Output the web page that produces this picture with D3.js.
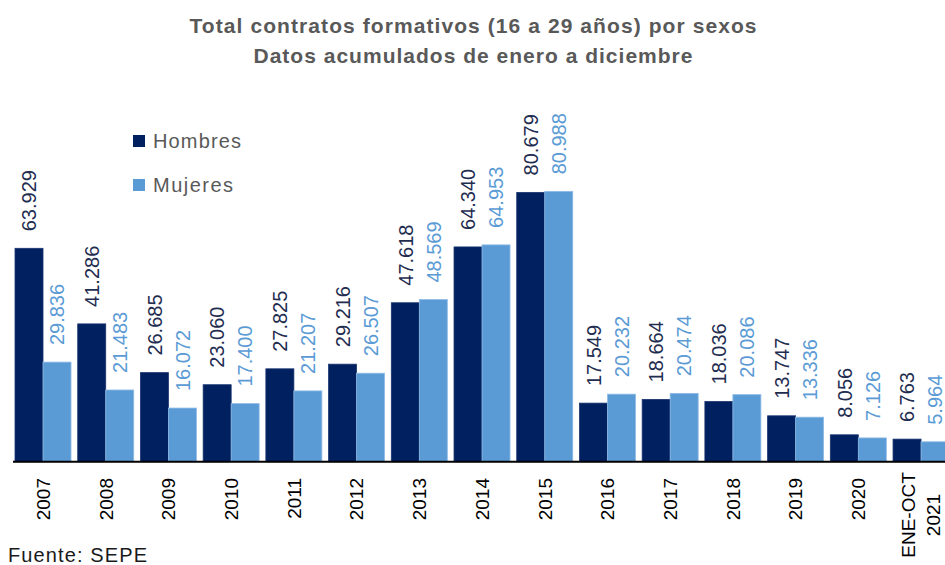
<!DOCTYPE html>
<html><head><meta charset="utf-8">
<script src="https://cdn.jsdelivr.net/npm/d3@7"></script>
<style>body{margin:0;background:#fff}svg{display:block}</style>
</head><body>
<svg id="c" width="945" height="565"></svg>
<script>
const categories = ["2007","2008","2009","2010","2011","2012","2013","2014","2015","2016","2017","2018","2019","2020","ENE-OCT\n2021"];
const hombres = [63929,41286,26685,23060,27825,29216,47618,64340,80679,17549,18664,18036,13747,8056,6763];
const mujeres = [29836,21483,16072,17400,21207,26507,48569,64953,80988,20232,20474,20086,13336,7126,5964];
const seriesNames = ["Hombres","Mujeres"];
const titleLines = ["Total contratos formativos (16 a 29 años) por sexos","Datos acumulados  de enero a diciembre"];

const colors = ["#002060","#5B9BD5"];
const labelColors = ["#1F2D50","#5B9BD5"];
const font = "'Liberation Sans', Arial, sans-serif";
const svg = d3.select("#c");
const baseY = 461.7;
const x = d3.scaleBand().domain(categories).range([11.65, 952.4]).paddingInner(0.107).paddingOuter(0.0535);
const xs = d3.scaleBand().domain(seriesNames).range([0, x.bandwidth()]);
const y = d3.scaleLinear().domain([0, 63929]).range([baseY, 248.3]);
const loc = d3.formatLocale({decimal:",", thousands:".", grouping:[3], currency:["","€"]});
const fmt = loc.format(",d");

const data = [];
categories.forEach((c,i)=>{
  data.push({c, s:"Hombres", v:hombres[i], k:0});
  data.push({c, s:"Mujeres", v:mujeres[i], k:1});
});

const g = svg.append("g");
g.selectAll("rect").data(data).join("rect")
  .attr("x", d=>x(d.c)+xs(d.s))
  .attr("y", d=>y(d.v))
  .attr("width", xs.bandwidth())
  .attr("height", d=>baseY - y(d.v))
  .attr("fill", d=>colors[d.k])
  .attr("stroke", d=> d.k===0 ? "#1a3570" : "#8fbbe6")
  .attr("stroke-width", 0.8);

g.selectAll("text.val").data(data).join("text")
  .attr("class","val")
  .attr("transform", d=>`translate(${x(d.c)+xs(d.s)+xs.bandwidth()/2},${y(d.v)-17}) rotate(-90)`)
  .attr("dy","0.36em")
  .attr("text-anchor","start")
  .attr("font-family", font).attr("font-size", 20)
  .attr("fill", d=>labelColors[d.k])
  .text(d=>fmt(d.v));

// axis
const axis = d3.axisBottom(x).tickSize(0).tickFormat("");
const ax = svg.append("g").attr("transform",`translate(0,${baseY})`).call(axis);
ax.select(".domain").remove();
svg.append("line").attr("x1",13).attr("x2",945).attr("y1",baseY).attr("y2",baseY)
  .attr("stroke","#000").attr("stroke-width",2);

categories.forEach(c=>{
  const lines = c.split("\n");
  const cx = x(c)+x.bandwidth()/2;
  if(lines.length===1){
    svg.append("text").attr("transform",`translate(${cx},478) rotate(-90)`)
      .attr("dy","0.36em").attr("text-anchor","end")
      .attr("font-family",font).attr("font-size",19).attr("fill","#000").text(c);
  } else {
    lines.forEach((l,j)=>{
      svg.append("text").attr("transform",`translate(${cx + (j-(lines.length-1)/2)*25},515) rotate(-90)`)
        .attr("dy","0.36em").attr("text-anchor","middle")
        .attr("font-family",font).attr("font-size",19).attr("fill","#000").text(l);
    });
  }
});

// title
const titleLens = [567, 439];
const titleBase = [33.3, 62.5];
titleLines.forEach((t,i)=>{
  svg.append("text").attr("x",473).attr("y",titleBase[i]).attr("text-anchor","middle")
    .attr("font-family",font).attr("font-weight","bold").attr("font-size",21)
    .attr("textLength",titleLens[i]).attr("lengthAdjust","spacing")
    .attr("fill","#595959").text(t);
});

// legend
const legendLens = [88, 80];
seriesNames.forEach((s,i)=>{
  const ly = 141 + i*44;
  svg.append("rect").attr("x",133).attr("y",ly-6).attr("width",12).attr("height",12).attr("fill",colors[i]);
  svg.append("text").attr("x",153).attr("y",ly).attr("dy","0.35em")
    .attr("font-family",font).attr("font-size",20).attr("fill","#595959")
    .attr("textLength",legendLens[i]).attr("lengthAdjust","spacing").text(s);
});

svg.append("text").attr("x",8).attr("y",562).attr("font-family",font).attr("font-size",20)
  .attr("textLength",139).attr("lengthAdjust","spacing")
  .attr("fill","#1a1a1a").text("Fuente: SEPE");
</script>
</body></html>
